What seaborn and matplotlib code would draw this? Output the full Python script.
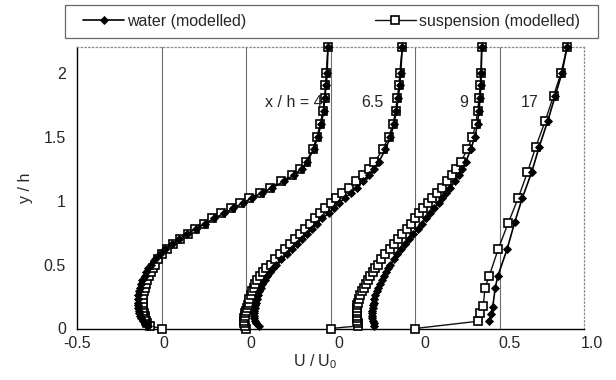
import matplotlib
matplotlib.use("Agg")
import matplotlib.pyplot as plt
import matplotlib.transforms as mtransforms
from matplotlib.lines import Line2D
from matplotlib.patches import Rectangle
import numpy as np
import pandas as pd
import seaborn as sns

sns.set_style("white")
plt.rcParams["font.family"] = ["Liberation Sans", "DejaVu Sans"]
plt.rcParams["mathtext.default"] = "regular"

# ---------------- data ----------------
# y/h grid for profiles x/h = 4, 6.5, 9 (suspension starts at wall y=0)
y_grid = [0, 0.02, 0.04, 0.06, 0.08, 0.10, 0.12, 0.14, 0.16, 0.18, 0.20,
          0.23, 0.26, 0.29, 0.32, 0.35, 0.38, 0.41, 0.44, 0.47,
          0.50, 0.54, 0.58, 0.62, 0.66, 0.70, 0.74, 0.78, 0.82, 0.86, 0.90,
          0.94, 0.98, 1.02, 1.06, 1.10,
          1.15, 1.20, 1.25, 1.30,
          1.40, 1.50, 1.60, 1.70, 1.80, 1.90, 2.00, 2.20]

susp_4 = [0, -0.07, -0.085, -0.09, -0.095, -0.10, -0.105, -0.108, -0.11, -0.11, -0.11,
          -0.11, -0.108, -0.105, -0.10, -0.093, -0.085, -0.075, -0.065, -0.053,
          -0.04, -0.02, 0.005, 0.035, 0.07, 0.11, 0.155, 0.20, 0.25, 0.30, 0.355,
          0.41, 0.465, 0.52, 0.58, 0.64,
          0.71, 0.77, 0.82, 0.855,
          0.895, 0.92, 0.94, 0.955, 0.965, 0.97, 0.975, 0.985]
water_4 = [-0.08, -0.10, -0.11, -0.12, -0.13, -0.133, -0.136, -0.14, -0.14, -0.14,
           -0.14, -0.14, -0.135, -0.13, -0.12, -0.115, -0.10, -0.09, -0.08,
           -0.06, -0.04, -0.01, 0.02, 0.06, 0.105, 0.15, 0.205, 0.26, 0.31, 0.37,
           0.425, 0.48, 0.535, 0.595, 0.655,
           0.725, 0.785, 0.83, 0.86,
           0.90, 0.925, 0.945, 0.96, 0.965, 0.975, 0.98, 0.985]

susp_65 = [0, -0.005, -0.01, -0.01, -0.01, -0.008, -0.005, 0.0, 0.005, 0.01, 0.015,
           0.02, 0.028, 0.036, 0.045, 0.055, 0.068, 0.085, 0.10, 0.12,
           0.145, 0.17, 0.20, 0.23, 0.26, 0.29, 0.32, 0.35, 0.38, 0.41, 0.44,
           0.47, 0.50, 0.535, 0.57, 0.61,
           0.65, 0.69, 0.725, 0.76,
           0.81, 0.845, 0.87, 0.885, 0.895, 0.905, 0.91, 0.925]
water_65 = [0.075, 0.06, 0.055, 0.05, 0.048, 0.048, 0.05, 0.052, 0.055, 0.058,
            0.063, 0.07, 0.078, 0.087, 0.097, 0.11, 0.125, 0.14, 0.16,
            0.18, 0.21, 0.24, 0.27, 0.30, 0.33, 0.36, 0.39, 0.42, 0.45, 0.49,
            0.52, 0.55, 0.585, 0.62, 0.655,
            0.69, 0.725, 0.755, 0.785,
            0.825, 0.855, 0.875, 0.89, 0.90, 0.91, 0.915, 0.925]

susp_9 = [0, 0.165, 0.16, 0.157, 0.155, 0.155, 0.155, 0.155, 0.156, 0.158, 0.161,
          0.167, 0.175, 0.185, 0.197, 0.21, 0.222, 0.235, 0.25, 0.265,
          0.28, 0.30, 0.325, 0.35, 0.375, 0.40, 0.425, 0.45, 0.475, 0.50, 0.525,
          0.55, 0.575, 0.60, 0.63, 0.66,
          0.69, 0.72, 0.745, 0.77,
          0.81, 0.84, 0.86, 0.87, 0.88, 0.885, 0.89, 0.895]
water_9 = [0.26, 0.255, 0.25, 0.248, 0.247, 0.247, 0.248, 0.25, 0.252, 0.255,
           0.26, 0.266, 0.273, 0.282, 0.292, 0.303, 0.315, 0.327, 0.34,
           0.355, 0.375, 0.395, 0.415, 0.44, 0.465, 0.49, 0.515, 0.54, 0.565, 0.59,
           0.615, 0.64, 0.66, 0.685, 0.71,
           0.735, 0.76, 0.78, 0.80,
           0.83, 0.855, 0.87, 0.878, 0.885, 0.89, 0.892, 0.895]

# profile x/h = 17 (coarser measurement points)
y_susp_17 = [0, 0.057, 0.125, 0.174, 0.318, 0.414, 0.623, 0.826, 1.02, 1.22, 1.42, 1.62, 1.82, 2.0, 2.2]
susp_17 = [0, 0.374, 0.385, 0.404, 0.414, 0.44, 0.493, 0.552, 0.611, 0.665, 0.715, 0.77, 0.82, 0.865, 0.90]
y_water_17 = [0.055, 0.11, 0.17, 0.32, 0.41, 0.62, 0.83, 1.02, 1.22, 1.42, 1.62, 1.82, 2.0, 2.2]
water_17 = [0.44, 0.45, 0.46, 0.475, 0.49, 0.545, 0.59, 0.635, 0.69, 0.735, 0.785, 0.83, 0.87, 0.90]

profile_labels = ["x / h = 4", "6.5", "9", "17"]
profile_offsets = [0.0, 0.5, 1.0, 1.5]   # each profile drawn from its own zero line
label_pos_x = [0.78, 1.25, 1.79, 2.18]
label_pos_y = 1.77

x_ticks = [-0.5, 0.0, 0.5, 1.0, 1.5, 2.0, 2.5]
x_ticklabels = ["-0.5", "0", "0", "0", "0", "0.5", "1.0"]
y_ticks = [0, 0.5, 1.0, 1.5, 2.0]
y_ticklabels = ["0", "0.5", "1", "1.5", "2"]

series_names = ["water (modelled)", "suspension (modelled)"]

# ---------------- build long table ----------------
profiles = [
    (y_grid[1:], water_4, y_grid, susp_4),
    (y_grid[1:], water_65, y_grid, susp_65),
    (y_grid[1:], water_9, y_grid, susp_9),
    (y_water_17, water_17, y_susp_17, susp_17),
]
rows = []
for i, (yw, uw, ys, us) in enumerate(profiles):
    for yy, uu in zip(yw, uw):
        rows.append(dict(profile=i, series=series_names[0], y=yy, U=uu, xpos=uu + profile_offsets[i]))
    for yy, uu in zip(ys, us):
        rows.append(dict(profile=i, series=series_names[1], y=yy, U=uu, xpos=uu + profile_offsets[i]))
df = pd.DataFrame(rows)

# ---------------- figure ----------------
FS = 11.5
fig = plt.figure(figsize=(6.16, 3.8), dpi=100)
ax = fig.add_axes([77 / 616, 1 - 328.5 / 380, 507 / 616, (328.5 - 47) / 380])

ax.set_xlim(-0.5, 2.5)
ax.set_ylim(0, 2.2)
for gx in x_ticks[1:-1]:
    ax.axvline(gx, color="#6e6e6e", lw=0.8, zorder=0)

style = {
    series_names[0]: dict(color="black", lw=1.2, marker="D", markersize=4.3,
                          markerfacecolor="black", markeredgecolor="black", markeredgewidth=0.6),
    series_names[1]: dict(color="#111111", lw=1.0, marker="s", markersize=5.6,
                          markerfacecolor="white", markeredgecolor="black", markeredgewidth=1.2),
}
zorders = {series_names[0]: 4, series_names[1]: 3}
for i in range(4):
    for s in [series_names[1], series_names[0]]:
        sub = df[(df.profile == i) & (df.series == s)]
        sns.lineplot(data=sub, x="xpos", y="y", sort=False, estimator=None,
                     legend=False, ax=ax, clip_on=False, zorder=zorders[s], **style[s])

ax.set_xticks(x_ticks)
ax.set_xticklabels([])
ax.set_yticks(y_ticks)
ax.set_yticklabels(y_ticklabels)
ax.tick_params(axis="x", direction="inout", length=6, width=0.8)
ax.tick_params(axis="y", direction="out", length=5, width=0.8, labelsize=FS, pad=3)

# x tick labels (slightly shifted to the right as in the original figure)
x_label_shift_px = [0, 2, 5, 8, 10, 10, 8]
xlab_trans = mtransforms.blended_transform_factory(ax.transData, ax.transAxes)
for xt, lab, dx in zip(x_ticks, x_ticklabels, x_label_shift_px):
    tr = xlab_trans + mtransforms.ScaledTranslation(dx / 100, -7 / 100, fig.dpi_scale_trans)
    ax.text(xt, 0, lab, transform=tr, ha="center", va="top", fontsize=FS, clip_on=False)

ax.set_xlabel("")
fig.text(315 / 616, 1 - 362 / 380, "U / U$_0$", ha="center", va="center", fontsize=FS)
ax.set_ylabel("y / h", fontsize=FS, labelpad=8)

for sp in ["left", "bottom"]:
    ax.spines[sp].set_color("black")
    ax.spines[sp].set_linewidth(1.0)
for sp in ["top", "right"]:
    ax.spines[sp].set_color("#888888")
    ax.spines[sp].set_linewidth(0.9)
    ax.spines[sp].set_linestyle((0, (1, 2)))

for lab, lx in zip(profile_labels, label_pos_x):
    ax.text(lx, label_pos_y, lab, ha="center", va="center", fontsize=FS, zorder=5)

# legend box above plot
fig.patches.append(Rectangle((65 / 616, 1 - 38 / 380), 533 / 616, 33 / 380,
                             transform=fig.transFigure, fill=False,
                             edgecolor="#666666", lw=0.9))
handles = [Line2D([], [], **style[s]) for s in series_names]
fig.legend(handles, series_names, loc="center",
           bbox_to_anchor=((65 + 598) / 2 / 616, 1 - 21.5 / 380),
           ncol=2, frameon=False, fontsize=FS, handlelength=2.6,
           handletextpad=0.2, columnspacing=8.0)

fig.savefig("out.png", dpi=100)
